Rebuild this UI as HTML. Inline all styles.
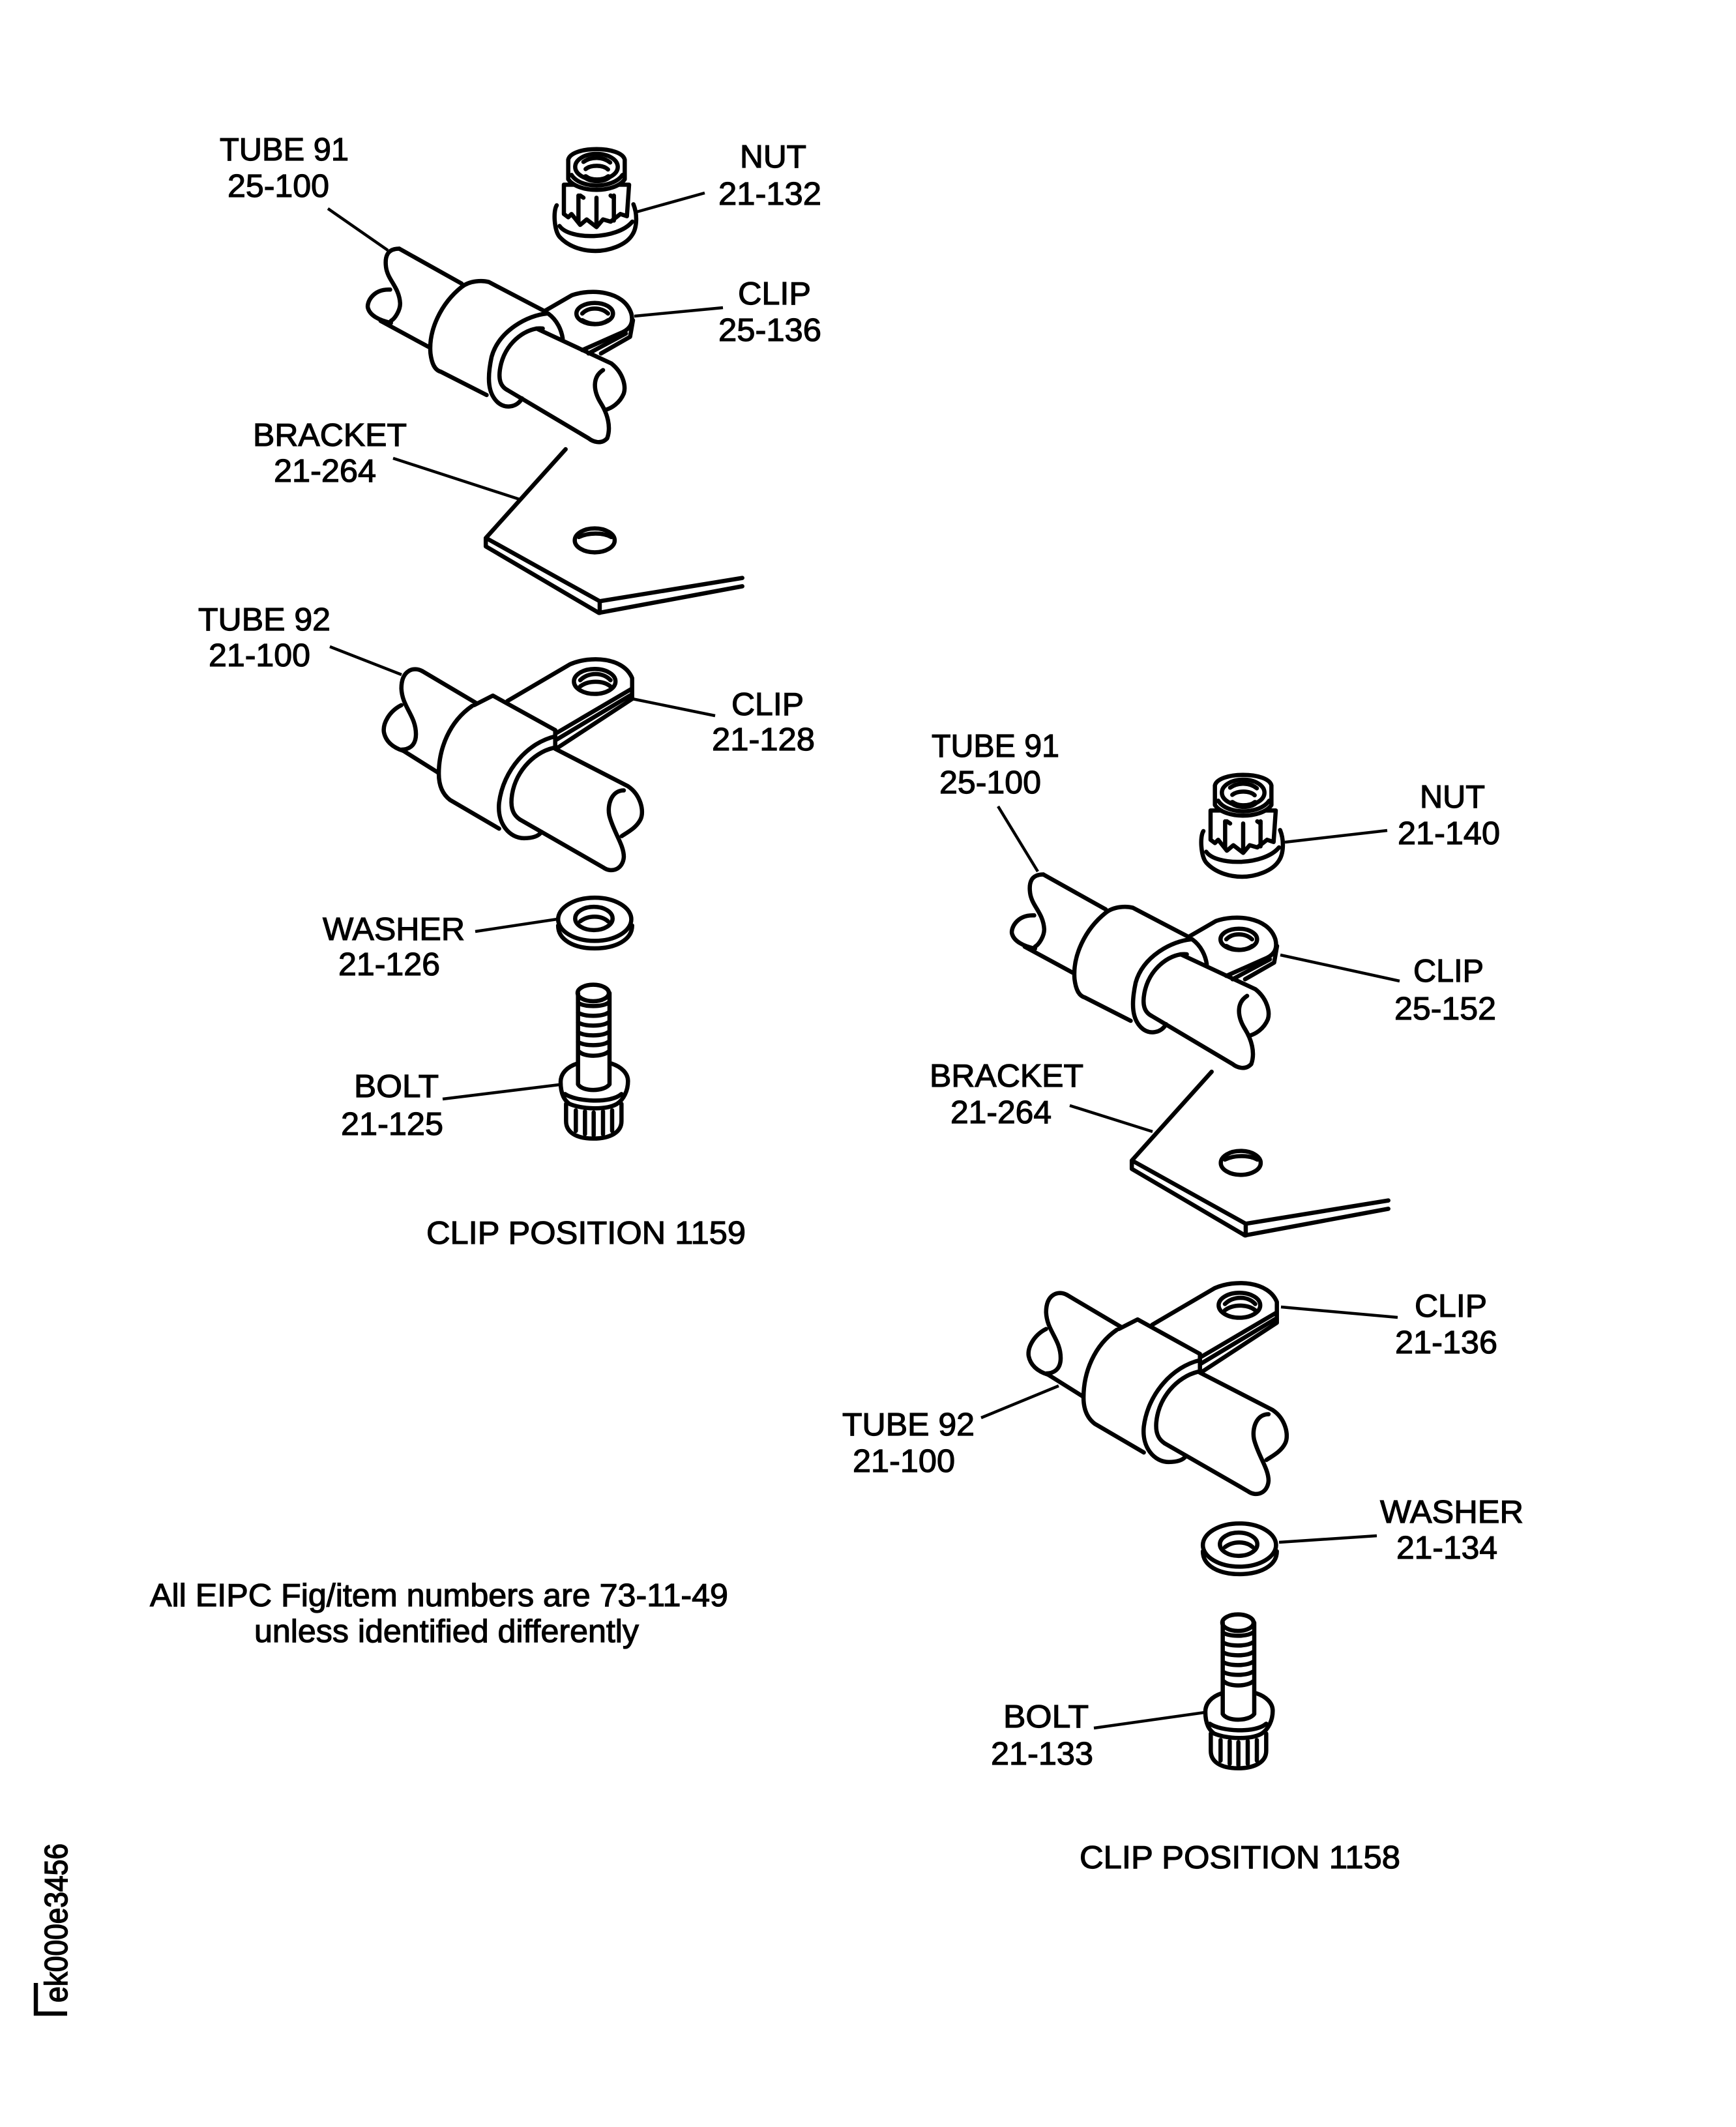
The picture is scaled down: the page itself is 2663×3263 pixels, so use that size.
<!DOCTYPE html>
<html><head><meta charset="utf-8"><title>Clip positions</title>
<style>
html,body{margin:0;padding:0;background:#fff}
svg{display:block}
path,ellipse,line{vector-effect:non-scaling-stroke;fill:none;stroke:#000;stroke-width:6.5;stroke-linecap:round;stroke-linejoin:round}
.w{fill:#fff}
.l{stroke-width:4.5;stroke-linecap:butt}
text{font-family:"Liberation Sans",sans-serif;font-size:49px;fill:#000;stroke:#000;stroke-width:1.2}
</style></head><body>
<svg width="2663" height="3263" viewBox="0 0 2663 3263" xmlns="http://www.w3.org/2000/svg">
<rect width="2663" height="3263" fill="#fff"/>
<defs>
<g id="nut" transform="translate(830,200) scale(.33333)">
<path class="w" d="M72,345C55,370 60,460 85,490C130,540 200,555 250,555C310,555 390,530 420,480C440,450 445,390 425,340"/>
<path d="M85,440C130,505 350,505 420,420"/>
<path class="w" d="M105,250V385L125,400L140,385L180,435L210,410L255,445L285,410L320,420L365,385L395,395L405,250Z"/>
<path d="M172,300V420M255,310V440M335,300V415"/>
<path class="w" d="M125,135V225C170,290 340,290 385,225V135C370,70 140,70 125,135Z"/>
<path d="M140,205C180,270 330,270 375,205"/>
<ellipse cx="255" cy="168" rx="98" ry="60"/>
<path d="M195,145C230,120 285,120 318,148M205,178C230,158 285,158 308,180"/>
<path d="M205,215C230,235 285,235 310,215" style="stroke-width:9"/>
<path d="M180,300L195,310M320,300L335,310"/>
</g>
<g id="t91" transform="translate(300,180) scale(.6378,.5102)">
<path d="M490,395C460,395 455,420 458,450C462,490 490,510 492,560C492,580 480,605 470,612"/>
<path d="M468,518C425,515 410,560 415,575C420,595 440,610 470,618"/>
<path d="M490,395L640,500M445,612L560,690"/>
<path d="M640,510C590,560 560,640 565,710C568,740 575,760 590,765L700,835"/>
<path d="M640,510C660,490 690,490 705,495L835,580"/>
<path d="M845,590C800,595 730,640 712,720C700,790 705,830 725,855C745,880 775,870 785,845"/>
<path d="M835,635C800,630 750,670 735,740C725,790 735,810 750,820"/>
<path d="M840,582L905,535C950,515 1030,520 1048,590C1055,625 1040,640 1020,650L930,700"/>
<path d="M848,590C870,610 880,640 883,665"/>
<path d="M945,710L1035,650M1052,610L1045,660L975,710"/>
<ellipse cx="960" cy="590" rx="44" ry="32"/>
<path d="M930,590C945,570 975,570 992,590M930,610C950,625 975,625 992,610"/>
<path d="M820,635L1000,740C1030,770 1035,810 1030,830C1020,860 1000,875 985,880"/>
<path d="M980,760C955,780 955,820 975,860C990,890 1000,930 990,965C975,985 955,975 945,965L750,820"/>
</g>
<g id="br" transform="translate(300,180) scale(.6378,.5102)">
<path d="M890,998L698,1265V1290L970,1490L1315,1410"/>
<path d="M703,1268L972,1455L1315,1385M972,1455V1490"/>
<ellipse cx="960" cy="1272" rx="48" ry="36"/>
<path d="M922,1262C945,1248 980,1248 1000,1262"/>
</g>
<g id="t92" transform="translate(300,900) scale(.6378)">
<path d="M545,203C525,192 495,200 495,245C497,290 530,310 530,355C530,385 510,392 495,392"/>
<path d="M495,285C465,300 450,330 453,350C458,375 478,388 500,395"/>
<path d="M545,203L675,280M500,395L583,447"/>
<path d="M665,287C610,325 585,390 585,450C585,480 595,500 612,513L730,582"/>
<path d="M670,285L715,262L865,345V385"/>
<path d="M750,275L900,187C950,165 1030,170 1050,220V270L870,388M868,352L1050,245M868,368L1048,260"/>
<path d="M865,360C800,375 740,440 730,520C725,570 755,605 790,605C810,605 825,600 832,590"/>
<path d="M860,388C810,400 765,450 760,510C758,535 765,550 780,560"/>
<path d="M865,390L1040,480C1070,500 1080,540 1070,560C1060,580 1040,590 1025,600"/>
<path d="M1030,490C1000,490 990,525 995,550C1005,590 1030,620 1030,650C1028,680 1000,690 980,675L780,560"/>
<ellipse cx="960" cy="228" rx="50" ry="30"/>
<path d="M925,225C945,205 980,205 998,225M925,240C945,225 980,225 998,240"/>
</g>
<g id="wa" transform="translate(300,900) scale(.6378)">
<path d="M872,815C872,850 910,870 960,870C1010,870 1050,850 1050,815"/>
<ellipse cx="960" cy="800" rx="88" ry="52"/>
<ellipse cx="958" cy="798" rx="45" ry="28"/>
<path d="M925,805C945,790 975,790 992,805"/>
</g>
<g id="bo" transform="translate(840,1490) scale(.33333)">
<path d="M135,425C90,440 60,470 60,510C60,570 80,595 100,610C160,635 270,640 320,610C350,590 370,550 370,505C370,470 340,440 295,425"/>
<path d="M80,565C130,600 290,610 340,565"/>
<path d="M85,610V690C85,740 130,770 210,770C290,770 340,740 340,690V610"/>
<path d="M130,640V735M172,645V750M212,650V755M255,645V750M297,640V735"/>
<path d="M140,100V520C160,555 260,555 285,520V100"/>
<ellipse cx="210" cy="100" rx="72" ry="38"/>
<path d="M140,145C170,165 250,165 280,145M140,190C170,210 250,210 280,190M140,235C170,255 250,255 280,235M140,280C170,300 250,300 280,280M140,325C170,345 250,345 280,325M145,370C170,395 250,395 280,370"/>
</g>
</defs>

<!-- left assembly -->
<use href="#nut"/><use href="#t91"/><use href="#br"/><use href="#t92"/><use href="#wa"/><use href="#bo"/>
<path class="l" d="M503,320L595,384M1081,296L977,325M1109,472L973,485M603,703L797,766M506,992L616,1035M1097,1098L970,1072M729,1429L855,1410M679,1686L858,1664"/>

<!-- right assembly -->
<use href="#nut" x="992" y="960"/><use href="#t91" x="988" y="960"/><use href="#br" x="991" y="955"/><use href="#t92" x="989" y="957"/><use href="#wa" x="989" y="960"/><use href="#bo" x="989" y="966"/>
<path class="l" d="M1531,1237L1592,1337M2128,1274L1971,1292M2147,1505L1964,1465M1641,1696L1768,1736M2144,2021L1965,2005M1505,2175L1624,2126M2112,2356L1962,2366M1678,2651L1848,2627"/>

<!-- left labels -->
<text x="337" y="246" textLength="198" lengthAdjust="spacingAndGlyphs">TUBE 91</text>
<text x="349" y="302" textLength="156" lengthAdjust="spacingAndGlyphs">25-100</text>
<text x="1135" y="257" textLength="102" lengthAdjust="spacingAndGlyphs">NUT</text>
<text x="1102" y="314" textLength="158" lengthAdjust="spacingAndGlyphs">21-132</text>
<text x="1132" y="467" textLength="112" lengthAdjust="spacingAndGlyphs">CLIP</text>
<text x="1102" y="523" textLength="158" lengthAdjust="spacingAndGlyphs">25-136</text>
<text x="388" y="684" textLength="236" lengthAdjust="spacingAndGlyphs">BRACKET</text>
<text x="420" y="739" textLength="157" lengthAdjust="spacingAndGlyphs">21-264</text>
<text x="304" y="967" textLength="203" lengthAdjust="spacingAndGlyphs">TUBE 92</text>
<text x="320" y="1022" textLength="156" lengthAdjust="spacingAndGlyphs">21-100</text>
<text x="1122" y="1097" textLength="111" lengthAdjust="spacingAndGlyphs">CLIP</text>
<text x="1092" y="1151" textLength="158" lengthAdjust="spacingAndGlyphs">21-128</text>
<text x="495" y="1442" textLength="218" lengthAdjust="spacingAndGlyphs">WASHER</text>
<text x="519" y="1496" textLength="156" lengthAdjust="spacingAndGlyphs">21-126</text>
<text x="543" y="1683" textLength="130" lengthAdjust="spacingAndGlyphs">BOLT</text>
<text x="523" y="1741" textLength="157" lengthAdjust="spacingAndGlyphs">21-125</text>
<text x="654" y="1908" textLength="490" lengthAdjust="spacingAndGlyphs">CLIP POSITION 1159</text>
<text x="230" y="2464" textLength="887" lengthAdjust="spacingAndGlyphs">All EIPC Fig/item numbers are 73-11-49</text>
<text x="390" y="2519" textLength="590" lengthAdjust="spacingAndGlyphs">unless identified differently</text>

<!-- right labels -->
<text x="1429" y="1161" textLength="196" lengthAdjust="spacingAndGlyphs">TUBE 91</text>
<text x="1441" y="1217" textLength="156" lengthAdjust="spacingAndGlyphs">25-100</text>
<text x="2178" y="1239" textLength="100" lengthAdjust="spacingAndGlyphs">NUT</text>
<text x="2144" y="1295" textLength="157" lengthAdjust="spacingAndGlyphs">21-140</text>
<text x="2168" y="1506" textLength="108" lengthAdjust="spacingAndGlyphs">CLIP</text>
<text x="2139" y="1564" textLength="156" lengthAdjust="spacingAndGlyphs">25-152</text>
<text x="1426" y="1667" textLength="236" lengthAdjust="spacingAndGlyphs">BRACKET</text>
<text x="1458" y="1723" textLength="155" lengthAdjust="spacingAndGlyphs">21-264</text>
<text x="2170" y="2020" textLength="111" lengthAdjust="spacingAndGlyphs">CLIP</text>
<text x="2140" y="2076" textLength="157" lengthAdjust="spacingAndGlyphs">21-136</text>
<text x="1292" y="2202" textLength="203" lengthAdjust="spacingAndGlyphs">TUBE 92</text>
<text x="1308" y="2258" textLength="157" lengthAdjust="spacingAndGlyphs">21-100</text>
<text x="2117" y="2336" textLength="220" lengthAdjust="spacingAndGlyphs">WASHER</text>
<text x="2142" y="2391" textLength="155" lengthAdjust="spacingAndGlyphs">21-134</text>
<text x="1539" y="2650" textLength="131" lengthAdjust="spacingAndGlyphs">BOLT</text>
<text x="1520" y="2707" textLength="157" lengthAdjust="spacingAndGlyphs">21-133</text>
<text x="1656" y="2866" textLength="492" lengthAdjust="spacingAndGlyphs">CLIP POSITION 1158</text>

<!-- figure id -->
<text transform="translate(103,3072) rotate(-90)" textLength="244" lengthAdjust="spacingAndGlyphs" style="stroke-width:1.6">ek000e3456</text>
<path d="M103,3089H55V3042" style="stroke-linecap:butt;stroke-linejoin:miter"/>
</svg>
</body></html>
